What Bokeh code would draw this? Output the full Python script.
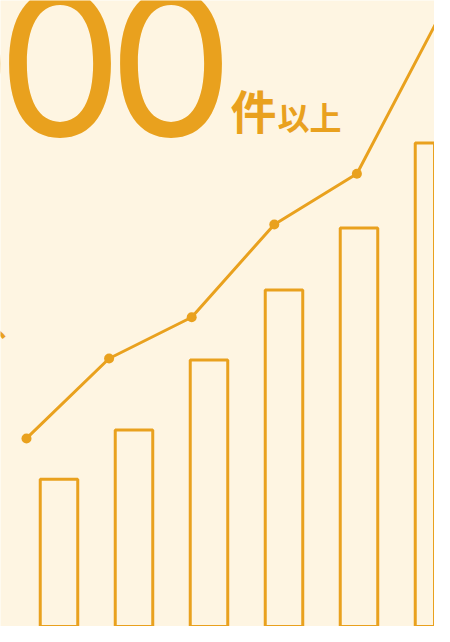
from bokeh.plotting import figure
from bokeh.models import Range1d, Label
from bokeh.embed import file_html
from bokeh.resources import INLINE

# ---- data ----
periods = ["1", "2", "3", "4", "5", "6"]
bar_index = [0, 1, 2, 3, 4, 5]
bar_values = [3.23, 4.22, 5.63, 7.04, 8.29, 10.0]
line_index = [0, 1, 2, 3, 4, 5]
line_values = [4.05, 5.66, 6.49, 8.36, 9.38, 12.55]
headline_digits = ["0", "0", "0"]
unit_main = "件"
unit_sub = "以上"
side_mark = "、"

ORANGE = "#E9A11E"
BG = "#FEF5E2"

W, H = 434, 626

p = figure(width=W, height=H, output_backend="svg", toolbar_location=None,
           x_range=Range1d(-0.78, 5.0067), y_range=Range1d(0.2618, 12.870),
           min_border=0)
p.extra_x_ranges = {"line": Range1d(-0.3148, 4.9395)}
p.axis.visible = False
p.grid.visible = False
p.outline_line_color = None
p.background_fill_color = BG
p.border_fill_color = BG

p.vbar(x=bar_index, top=bar_values, bottom=0, width=0.5,
       fill_color=None, line_color=ORANGE, line_width=3)

p.line(x=line_index, y=line_values, x_range_name="line",
       line_color=ORANGE, line_width=3)
p.scatter(x=line_index, y=line_values, x_range_name="line",
          size=10, fill_color=ORANGE, line_color=None)

# headline text (screen units; y from bottom of canvas)
for cx, d in zip([-51, 59.5, 170.5], headline_digits):
    p.add_layout(Label(x=cx, y=563, x_units="screen", y_units="screen",
                       text=d, text_font="Inter", text_font_size="199px",
                       text_color=ORANGE, text_align="center",
                       text_baseline="alphabetic"))

p.add_layout(Label(x=230, y=518, x_units="screen", y_units="screen",
                   text=unit_main, text_font="Noto Sans CJK JP",
                   text_font_style="bold", text_font_size="46px",
                   text_color=ORANGE, text_align="left",
                   text_baseline="alphabetic"))
p.add_layout(Label(x=277, y=511, x_units="screen", y_units="screen",
                   text=unit_sub, text_font="Noto Sans CJK JP",
                   text_font_style="bold", text_font_size="32px",
                   text_color=ORANGE, text_align="left",
                   text_baseline="alphabetic"))
p.add_layout(Label(x=-5, y=302, x_units="screen", y_units="screen",
                   text=side_mark, text_font="Noto Sans CJK JP",
                   text_font_style="bold", text_font_size="28px",
                   text_color=ORANGE, text_align="left",
                   text_baseline="alphabetic"))

open("out.html", "w").write(file_html(p, INLINE))
